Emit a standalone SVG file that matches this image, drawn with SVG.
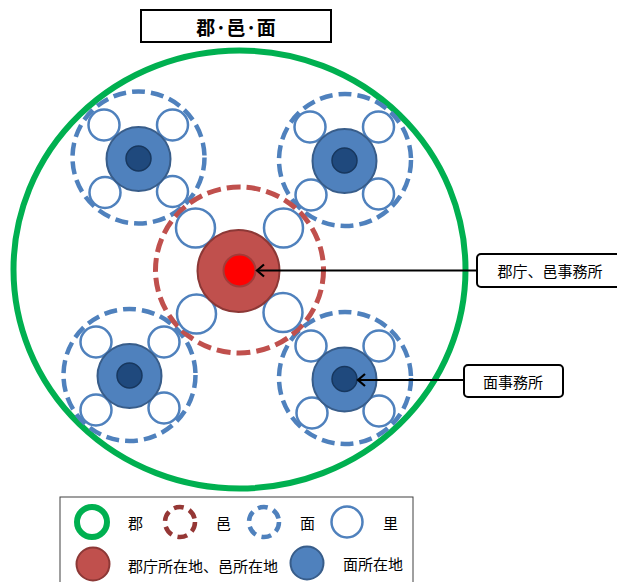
<svg xmlns="http://www.w3.org/2000/svg" width="617" height="582" viewBox="0 0 617 582">
<style>
text{font-family:"Noto Sans CJK JP","Noto Sans CJK SC",sans-serif;font-size:15px;fill:#000;dominant-baseline:central}
.gun{fill:none;stroke:#00B050;stroke-width:6}
.myeon{fill:none;stroke:#4F81BD;stroke-width:4.5;stroke-dasharray:13 6}
.eup{fill:none;stroke:#C0504D;stroke-width:5;stroke-dasharray:14 6}
.ri{fill:#fff;stroke:#4F81BD;stroke-width:2.5}
.bc{fill:#4F81BD;stroke:#385D8A;stroke-width:2}
.bi{fill:#1F497D;stroke:#17375E;stroke-width:1.5}
.rc{fill:#C0504D;stroke:#8C3836;stroke-width:2}
.box{fill:#fff;stroke:#000;stroke-width:2}
.ln{stroke:#000;stroke-width:2;fill:none}
</style>
<defs>
<marker id="arr" markerUnits="userSpaceOnUse" markerWidth="20" markerHeight="20" viewBox="-10 -10 20 20" refX="0" refY="0" orient="auto">
<path d="M-7,-6 L0,0 L-7,6" fill="none" stroke="#000" stroke-width="2.2"/>
</marker>
</defs>
<g id="title">
<rect class="box" x="141" y="10" width="190" height="32"/>
<text x="236" y="26" text-anchor="middle" style="font-size:19px;font-weight:bold">郡·邑·面</text>
</g>
<g id="gun">
<ellipse class="gun" cx="239.5" cy="269.5" rx="226" ry="219"/>
</g>
<g id="myeon-tl">
<circle class="myeon" cx="138.5" cy="157.5" r="66"/>
<circle class="ri" cx="104" cy="125" r="15.5"/>
<circle class="ri" cx="172.5" cy="125" r="15.5"/>
<circle class="ri" cx="105" cy="192.5" r="15.5"/>
<circle class="ri" cx="172.5" cy="191.5" r="15.5"/>
<circle class="bc" cx="138.5" cy="159" r="32"/>
<circle class="bi" cx="138.5" cy="158.5" r="12.5"/>
</g>
<g id="myeon-tr">
<circle class="myeon" cx="345" cy="160" r="66"/>
<circle class="ri" cx="310" cy="127" r="15.5"/>
<circle class="ri" cx="378.5" cy="127" r="15.5"/>
<circle class="ri" cx="311" cy="195" r="15.5"/>
<circle class="ri" cx="378.5" cy="194" r="15.5"/>
<circle class="bc" cx="344.5" cy="161" r="32"/>
<circle class="bi" cx="344.5" cy="160.5" r="12.5"/>
</g>
<g id="myeon-bl">
<circle class="myeon" cx="129.5" cy="375" r="66"/>
<circle class="ri" cx="96" cy="342" r="15.5"/>
<circle class="ri" cx="164" cy="342" r="15.5"/>
<circle class="ri" cx="96" cy="410" r="15.5"/>
<circle class="ri" cx="164" cy="408" r="15.5"/>
<circle class="bc" cx="129.5" cy="376" r="32"/>
<circle class="bi" cx="129.5" cy="375.5" r="12.5"/>
</g>
<g id="myeon-br">
<circle class="myeon" cx="345" cy="378" r="66"/>
<circle class="ri" cx="311" cy="346" r="15.5"/>
<circle class="ri" cx="379" cy="346" r="15.5"/>
<circle class="ri" cx="312" cy="413" r="15.5"/>
<circle class="ri" cx="379" cy="411" r="15.5"/>
<circle class="bc" cx="344.5" cy="379.5" r="32"/>
<circle class="bi" cx="344.5" cy="379" r="12.5"/>
</g>
<g id="eup">
<ellipse class="eup" cx="239.5" cy="270" rx="84" ry="83"/>
<circle class="ri" cx="195.5" cy="228" r="19.5"/>
<circle class="ri" cx="283.5" cy="228" r="19.5"/>
<circle class="ri" cx="196.5" cy="314" r="19.5"/>
<circle class="ri" cx="283" cy="312.5" r="19.5"/>
<circle class="rc" cx="238.5" cy="271" r="41"/>
<circle cx="239.5" cy="270.5" r="16" fill="#FF0000" stroke="#A33B39" stroke-width="2"/>
</g>
<g id="connectors">
<line class="ln" x1="477" y1="270.5" x2="257" y2="270.5" marker-end="url(#arr)"/>
<line class="ln" x1="464" y1="380" x2="358" y2="380" marker-end="url(#arr)"/>
</g>
<g id="callout-gun">
<rect class="box" x="477" y="254" width="150" height="33" rx="4"/>
<text x="550" y="270.5" text-anchor="middle">郡庁、邑事務所</text>
</g>
<g id="callout-myeon">
<rect class="box" x="464" y="365" width="99" height="32" rx="4"/>
<text x="513" y="381" text-anchor="middle">面事務所</text>
</g>
<g id="legend">
<rect x="60" y="497" width="353" height="100" fill="#fff" stroke="#404040" stroke-width="1"/>
<circle cx="92" cy="522" r="15" fill="#fff" stroke="#00B050" stroke-width="6"/>
<text x="128" y="522">郡</text>
<circle cx="180" cy="522" r="15" fill="#fff" stroke="#953735" stroke-width="4.5" stroke-dasharray="10 6"/>
<text x="216" y="522">邑</text>
<circle cx="264" cy="522" r="15" fill="#fff" stroke="#4F81BD" stroke-width="4.5" stroke-dasharray="10 6"/>
<text x="300" y="522">面</text>
<circle cx="347" cy="522" r="15.5" fill="#fff" stroke="#4F81BD" stroke-width="2.5"/>
<text x="383" y="522">里</text>
<circle class="rc" cx="93" cy="564" r="16.5"/>
<text x="128" y="565">郡庁所在地、邑所在地</text>
<circle class="bc" cx="307" cy="563" r="16.5"/>
<text x="343" y="563">面所在地</text>
</g>
</svg>
